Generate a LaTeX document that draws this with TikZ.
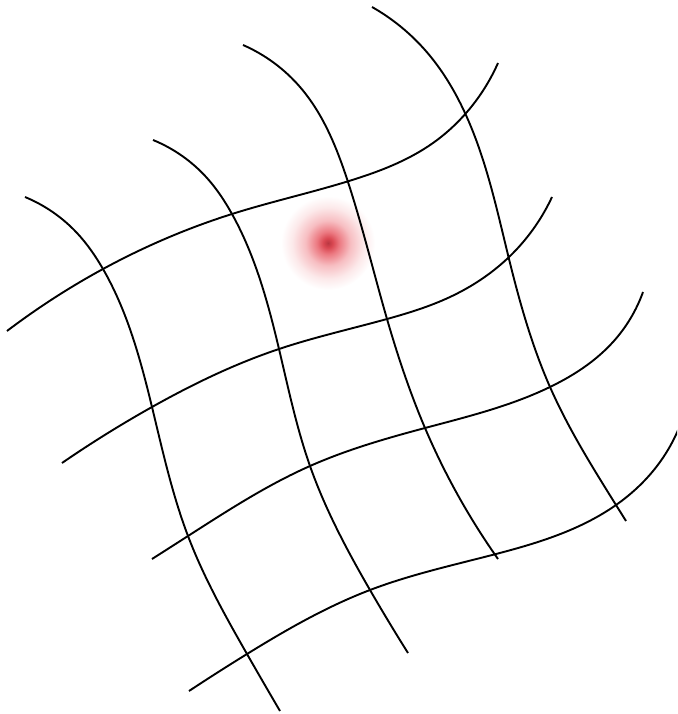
\documentclass[tikz,border=0pt]{standalone}
\usepackage{tikz}
\usetikzlibrary{hobby}
\usepackage{xcolor}
\definecolor{dotcore}{RGB}{185,55,65}
\definecolor{dotmid}{RGB}{218,72,82}
\definecolor{dotpink}{RGB}{236,122,130}
\definecolor{dotpale}{RGB}{247,190,194}
\definecolor{dothalo}{RGB}{252,233,234}
\pgfdeclareradialshading{reddot}{\pgfpoint{0bp}{0bp}}{%
  color(0bp)=(dotcore); color(2.5bp)=(dotmid); color(6bp)=(dotpink);
  color(12bp)=(dotpale); color(19bp)=(dothalo); color(25bp)=(white);
  color(50bp)=(white)}
\tikzset{gridline/.style={black,line width=1.35pt}}

\begin{document}
\begin{tikzpicture}[x=0.025cm,y=-0.025cm]
    \useasboundingbox (0,0) rectangle (677,714);
    \clip (0,0) rectangle (677,714);
    % blurred spot
    \shade[shading=reddot] (328,243) circle (47);
    % warped lines, lower left to upper right
    \draw[gridline] (7,331) to[curve through={(103,269) (232,214) (349,181) (433,143) (467,112)}] (498,63);
    \draw[gridline] (62,463) to[curve through={(152,407) (279,349) (387,319) (450,297) (508,258)}] (552,197);
    \draw[gridline] (152,559) to[curve through={(188,536) (310,466) (425,428) (552,386) (613,342)}] (643,292);
    \draw[gridline] (189,691) to[curve through={(247,654) (370,590) (496,554) (616,505) (660,462)}] (682,420);
    % warped lines, upper left to lower right
    \draw[gridline] (25,197) to[curve through={(77,233) (103,269) (152,407) (188,536) (247,654)}] (280,711);
    \draw[gridline] (153,140) to[curve through={(207,178) (232,214) (279,349) (310,466) (370,590)}] (408,653);
    \draw[gridline] (243,45) to[curve through={(300,87) (348,182) (387,319) (425,428)}] (498,559);
    \draw[gridline] (372,7) to[curve through={(425,50) (465,113) (509,259) (550,387) (616,505)}] (626,521);
\end{tikzpicture}
\end{document}
